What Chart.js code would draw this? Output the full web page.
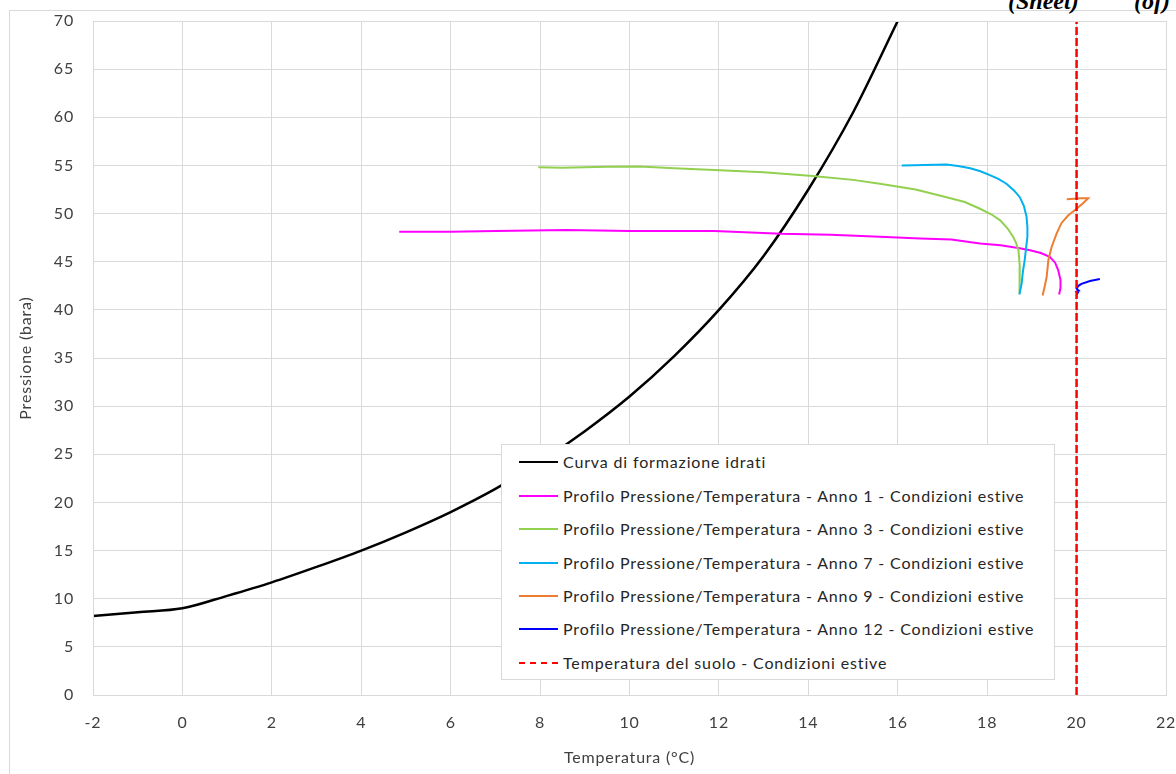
<!DOCTYPE html>
<html lang="it">
<head>
<meta charset="utf-8">
<title>Curva di formazione idrati</title>
<script src="https://cdn.jsdelivr.net/npm/chart.js@4.4.1/dist/chart.umd.min.js"></script>
<style>
  html, body { margin: 0; padding: 0; background: #ffffff; }
  body { width: 1176px; height: 774px; position: relative; overflow: hidden; font-family: Lato, "Open Sans", sans-serif; }
  #frame { position: absolute; left: 9px; top: 10px; width: 1300px; height: 900px; border: 1px solid #d9d9d9; box-sizing: border-box; }
  #chart { position: absolute; left: 0; top: 0; }
  .hdr { position: absolute; font-family: "Liberation Serif", "DejaVu Serif", serif; font-weight: bold; font-style: italic; font-size: 24px; line-height: 24px; color: #000; white-space: nowrap; }
  #legend { position: absolute; left: 501px; top: 444px; width: 554px; height: 236px; box-sizing: border-box; border: 1px solid #d9d9d9; background: #ffffff; }
  .row { position: absolute; left: 0; height: 20px; line-height: 20px; font-size: 16px; letter-spacing: 0.85px; color: #262626; white-space: nowrap; }
  .swatch { position: absolute; left: 17px; top: 9px; width: 39px; height: 0; }
  .label { position: absolute; left: 61px; top: 0; }
</style>
</head>
<body>
<div id="frame"></div>
<div class="hdr" style="left:1008px; top:-11px;">(Sheet)</div>
<div class="hdr" style="left:1134px; top:-11px;">(of)</div>
<canvas id="chart" width="1176" height="774"></canvas>
<div id="legend"></div>
<script>
// Hydrate formation curve (temperature in °C, pressure in bara)
const hydrateT = [-2, -1, 0, 1, 2, 3, 4, 5, 6, 7, 8, 9, 10, 11, 12, 13, 14, 15, 16];
const hydrateP = [8.2, 8.6, 9.0, 10.3, 11.7, 13.3, 15.0, 16.9, 19.0, 21.4, 24.2, 27.4, 31.0, 35.2, 40.0, 45.6, 52.5, 60.5, 70.0];

// Pressure/temperature profiles, summer conditions
const anno1T = [4.85, 6, 7, 8.6, 10, 11.9, 13.4, 14.5, 15.6, 16.5, 17.2, 17.84, 18.3, 18.73, 18.96, 19.2, 19.4, 19.52, 19.59, 19.64, 19.64, 19.61];
const anno1P = [48.1, 48.1, 48.2, 48.3, 48.2, 48.2, 47.9, 47.8, 47.6, 47.4, 47.3, 46.9, 46.7, 46.4, 46.2, 45.9, 45.5, 44.9, 44.1, 43.1, 42.3, 41.6];

const anno3T = [7.96, 8.5, 9.5, 10.23, 11, 12.02, 13, 14.1, 15, 15.6, 16.4, 17.09, 17.5, 17.84, 18.1, 18.29, 18.45, 18.58, 18.65, 18.7, 18.73, 18.73, 18.72];
const anno3P = [54.8, 54.75, 54.85, 54.9, 54.7, 54.5, 54.3, 53.9, 53.5, 53.1, 52.5, 51.7, 51.2, 50.5, 49.9, 49.3, 48.5, 47.6, 46.9, 46.2, 44.5, 43.0, 41.7];

const anno7T = [16.09, 16.6, 17.09, 17.35, 17.62, 17.85, 18.06, 18.25, 18.43, 18.6, 18.73, 18.82, 18.88, 18.9, 18.9, 18.87, 18.84, 18.8, 18.77, 18.72];
const anno7P = [55.0, 55.05, 55.1, 54.95, 54.7, 54.4, 54.0, 53.6, 53.1, 52.4, 51.7, 50.8, 49.7, 48.6, 47.6, 46.4, 45.2, 44.0, 42.7, 41.6];

const anno9T = [19.24, 19.29, 19.33, 19.37, 19.44, 19.55, 19.66, 19.81, 20.0, 20.15, 20.26, 20.1, 19.78];
const anno9P = [41.5, 42.5, 43.4, 45.2, 46.5, 47.9, 49.0, 49.8, 50.5, 51.1, 51.6, 51.6, 51.5];

const anno12T = [20.52, 20.3, 20.11, 20.04, 20.0, 20.05, 20.0, 20.03, 20.0];
const anno12P = [43.2, 43.0, 42.7, 42.5, 42.2, 42.0, 41.9, 41.8, 41.6];

// Ground temperature, summer conditions
const soilT = [20, 20];
const soilP = [0, 70];

// Axis ticks
const xTicks = [-2, 0, 2, 4, 6, 8, 10, 12, 14, 16, 18, 20, 22];
const yTicks = [0, 5, 10, 15, 20, 25, 30, 35, 40, 45, 50, 55, 60, 65, 70];

const seriesNames = [
  'Curva di formazione idrati',
  'Profilo Pressione/Temperatura - Anno 1 - Condizioni estive',
  'Profilo Pressione/Temperatura - Anno 3 - Condizioni estive',
  'Profilo Pressione/Temperatura - Anno 7 - Condizioni estive',
  'Profilo Pressione/Temperatura - Anno 9 - Condizioni estive',
  'Profilo Pressione/Temperatura - Anno 12 - Condizioni estive',
  'Temperatura del suolo - Condizioni estive'
];
const seriesColors = ['#000000', '#ff00ff', '#92d050', '#00b0f0', '#ed7d31', '#0000ff', '#ff0000'];

const pts = (xs, ys) => xs.map((x, i) => ({ x: x, y: ys[i] }));

const seriesData = [
  pts(hydrateT, hydrateP),
  pts(anno1T, anno1P),
  pts(anno3T, anno3P),
  pts(anno7T, anno7P),
  pts(anno9T, anno9P),
  pts(anno12T, anno12P),
  pts(soilT, soilP)
];

const datasets = seriesData.map((data, i) => ({
  label: seriesNames[i],
  data: data,
  showLine: true,
  borderColor: seriesColors[i],
  backgroundColor: seriesColors[i],
  borderWidth: (i === 0 || i === 6) ? 2.5 : 2,
  borderDash: i === 6 ? [8, 3] : [],
  pointRadius: 0,
  pointHoverRadius: 0,
  tension: i === 0 ? 0.4 : 0,
  cubicInterpolationMode: i === 0 ? 'monotone' : 'default',
  order: 6 - i,
  fill: false
}));

const fontFamily = 'Lato, "Open Sans", sans-serif';
const tickFont = { family: fontFamily, size: 16 };
const titleFont = { family: fontFamily, size: 16 };
const gridColor = '#d9d9d9';

new Chart(document.getElementById('chart'), {
  type: 'scatter',
  data: { datasets: datasets },
  options: {
    responsive: false,
    animation: false,
    events: [],
    layout: { padding: { top: 21, right: 10, left: 0, bottom: 0 } },
    plugins: { legend: { display: false }, tooltip: { enabled: false } },
    scales: {
      x: {
        type: 'linear',
        min: xTicks[0],
        max: xTicks[xTicks.length - 1],
        afterBuildTicks: s => { s.ticks = xTicks.map(v => ({ value: v })); },
        afterFit: s => { s.height = 79; s.paddingLeft = 0; s.paddingRight = 0; },
        ticks: { font: tickFont, color: '#404040', padding: 18, maxRotation: 0 },
        grid: { color: gridColor, lineWidth: 1, drawTicks: false },
        border: { color: gridColor, width: 1 },
        title: { display: true, text: 'Temperatura (°C)', font: titleFont, color: '#404040', padding: { top: 4, bottom: 7 } }
      },
      y: {
        type: 'linear',
        min: yTicks[0],
        max: yTicks[yTicks.length - 1],
        afterBuildTicks: s => { s.ticks = yTicks.map(v => ({ value: v })); },
        afterFit: s => { s.width = 93; s.paddingTop = 0; s.paddingBottom = 0; },
        ticks: { font: tickFont, color: '#404040', padding: 19 },
        grid: { color: gridColor, lineWidth: 1, drawTicks: false },
        border: { color: gridColor, width: 1 },
        title: { display: true, text: 'Pressione (bara)', font: titleFont, color: '#404040', padding: { top: 16, bottom: 4 } }
      }
    }
  },
  plugins: [{
    id: 'textSpacing',
    beforeDraw(chart) {
      // Slightly wider text tracking for axis labels and titles
      if ('letterSpacing' in chart.ctx) chart.ctx.letterSpacing = '0.8px';
    }
  }, {
    id: 'plotFrame',
    afterDraw(chart) {
      const { ctx, chartArea: a } = chart;
      ctx.save();
      ctx.strokeStyle = gridColor;
      ctx.lineWidth = 1;
      ctx.strokeRect(Math.round(a.left) + 0.5, Math.round(a.top) + 0.5, Math.round(a.right - a.left), Math.round(a.bottom - a.top));
      ctx.restore();
    }
  }]
});

// Legend box
const legend = document.getElementById('legend');
seriesNames.forEach((name, i) => {
  const row = document.createElement('div');
  row.className = 'row';
  row.style.top = (7.3 + 33.4 * i) + 'px';
  const sw = document.createElement('div');
  sw.className = 'swatch';
  sw.style.borderTop = (i === 6 ? '2px dashed ' : '2.5px solid ') + seriesColors[i];
  const lb = document.createElement('span');
  lb.className = 'label';
  lb.textContent = name;
  row.appendChild(sw);
  row.appendChild(lb);
  legend.appendChild(row);
});
</script>
</body>
</html>
